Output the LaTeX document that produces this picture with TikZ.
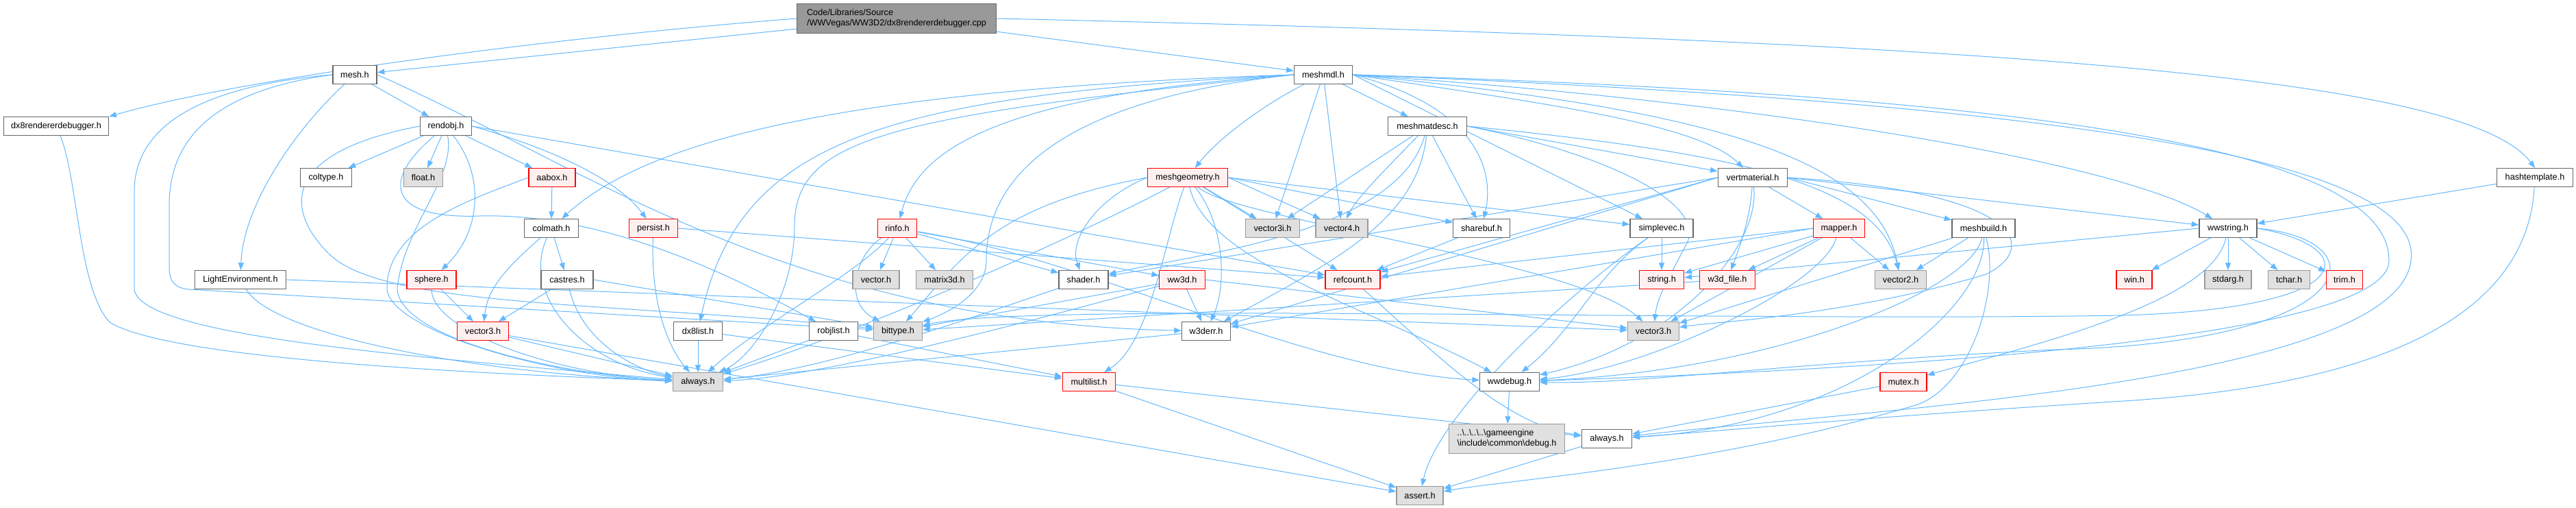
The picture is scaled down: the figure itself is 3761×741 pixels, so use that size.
\documentclass[tikz,border=0pt]{standalone}
\usepackage{fontspec}
\setmainfont{Liberation Sans}
\usetikzlibrary{arrows.meta}
\definecolor{edgeblue}{HTML}{63B8FF}
\definecolor{darkline}{HTML}{666666}
\definecolor{sysline}{HTML}{999999}
\definecolor{sysfill}{HTML}{E0E0E0}
\definecolor{cutfill}{HTML}{FFF0F0}
\definecolor{srcfill}{HTML}{999999}
\pgfdeclarelayer{background}
\pgfsetlayers{background,main}
\begin{document}
\begin{tikzpicture}[x=0.75pt, y=-0.75pt, >={Triangle[length=8pt,width=6pt]},
  incbox/.style={rectangle, line width=1pt, minimum height=20pt, inner sep=0pt, font=\fontsize{9.5}{11}\selectfont},
  plainfile/.style={incbox, draw=darkline, fill=white},
  sysfile/.style={incbox, draw=sysline, fill=sysfill},
  cutfile/.style={incbox, draw=red, fill=cutfill},
  srcfile/.style={incbox, draw=darkline, fill=srcfill, align=left},
  dep/.style={->, draw=edgeblue, line width=0.75pt}]
  \useasboundingbox (0,0) rectangle (3761,741);

  % 1. 元のファイル
  \node[srcfile, minimum width=218pt, minimum height=32pt] (root) at (1309,27) {Code/Libraries/Source\\/WWVegas/WW3D2/dx8rendererdebugger.cpp};

  % 2. 段 1--2
  \node[plainfile, minimum width=48pt]  (mesh)    at (518,109)  {mesh.h};
  \node[plainfile, minimum width=64pt]  (meshmdl) at (1932,109) {meshmdl.h};
  \node[plainfile, minimum width=115pt] (dxdbg)   at (82,184)   {dx8rendererdebugger.h};
  \node[plainfile, minimum width=56pt]  (rendobj) at (651,184)  {rendobj.h};
  \node[plainfile, minimum width=86pt]  (meshmatdesc) at (2084,184) {meshmatdesc.h};

  % 3. 段 3
  \node[plainfile, minimum width=56pt] (coltype)      at (476,259)  {coltype.h};
  \node[sysfile,   minimum width=43pt] (float)        at (618,259)  {float.h};
  \node[cutfile,   minimum width=51pt] (aabox)        at (806,259)  {aabox.h};
  \node[cutfile,   minimum width=88pt] (meshgeometry) at (1734,259) {meshgeometry.h};
  \node[plainfile, minimum width=76pt] (vertmaterial) at (2559,259) {vertmaterial.h};
  \node[plainfile, minimum width=83pt] (hashtemplate) at (3701,259) {hashtemplate.h};

  % 4. 段 4
  \node[plainfile, minimum width=59pt] (colmath)   at (805,333)  {colmath.h};
  \node[cutfile,   minimum width=53pt] (persist)   at (954,333)  {persist.h};
  \node[cutfile,   minimum width=43pt] (rinfo)     at (1310,333) {rinfo.h};
  \node[sysfile,   minimum width=59pt] (vector3i)  at (1858,333) {vector3i.h};
  \node[sysfile,   minimum width=57pt] (vector4)   at (1959,333) {vector4.h};
  \node[plainfile, minimum width=62pt] (sharebuf)  at (2163,333) {sharebuf.h};
  \node[plainfile, minimum width=69pt] (simplevec) at (2426,333) {simplevec.h};
  \node[cutfile,   minimum width=56pt] (mapper)    at (2685,333) {mapper.h};
  \node[plainfile, minimum width=69pt] (meshbuild) at (2896,333) {meshbuild.h};
  \node[plainfile, minimum width=63pt] (wwstring)  at (3253,333) {wwstring.h};

  % 5. 段 5
  \node[plainfile, minimum width=100pt] (lightenv) at (351,408)  {LightEnvironment.h};
  \node[cutfile,   minimum width=54pt]  (sphere)   at (630,408)  {sphere.h};
  \node[plainfile, minimum width=57pt]  (castres)  at (828,408)  {castres.h};
  \node[sysfile,   minimum width=51pt]  (vector)   at (1279,408) {vector.h};
  \node[sysfile,   minimum width=62pt]  (matrix3d) at (1379,408) {matrix3d.h};
  \node[plainfile, minimum width=54pt]  (shader)   at (1582,408) {shader.h};
  \node[cutfile,   minimum width=50pt]  (ww3d)     at (1726,408) {ww3d.h};
  \node[cutfile,   minimum width=60pt]  (refcount) at (1975,408) {refcount.h};
  \node[cutfile,   minimum width=49pt]  (stringh)  at (2426,408) {string.h};
  \node[cutfile,   minimum width=61pt]  (w3dfile)  at (2522,408) {w3d\_file.h};
  \node[sysfile,   minimum width=56pt]  (vector2)  at (2775,408) {vector2.h};
  \node[cutfile,   minimum width=39pt]  (win)      at (3116,408) {win.h};
  \node[sysfile,   minimum width=51pt]  (stdarg)   at (3253,408) {stdarg.h};
  \node[sysfile,   minimum width=46pt]  (tchar)    at (3342,408) {tchar.h};
  \node[cutfile,   minimum width=40pt]  (trim)     at (3423,408) {trim.h};

  % 6. 段 6
  \node[cutfile,   minimum width=56pt] (vecthreer) at (705,483)  {vector3.h};
  \node[plainfile, minimum width=53pt] (dxlist)    at (1019,483) {dx8list.h};
  \node[plainfile, minimum width=53pt] (robjlist)  at (1217,483) {robjlist.h};
  \node[sysfile,   minimum width=53pt] (bittype)   at (1311,483) {bittype.h};
  \node[plainfile, minimum width=53pt] (w3derr)    at (1761,483) {w3derr.h};
  \node[sysfile,   minimum width=56pt] (vecthreeg) at (2414,483) {vector3.h};

  % 7. 段 7--9
  \node[sysfile,   minimum width=55pt] (alwaysA)   at (1019,557) {always.h};
  \node[cutfile,   minimum width=58pt] (multilist) at (1590,557) {multilist.h};
  \node[plainfile, minimum width=65pt] (wwdebug)   at (2204,557) {wwdebug.h};
  \node[cutfile,   minimum width=51pt] (mutex)     at (2779,557) {mutex.h};
  \node[sysfile, align=left, minimum width=127pt, minimum height=32pt] (debug) at (2200,640)
    {..\textbackslash..\textbackslash..\textbackslash..\textbackslash gameengine\\\textbackslash include\textbackslash common\textbackslash debug.h};
  \node[plainfile, minimum width=55pt] (alwaysB)   at (2346,640) {always.h};
  \node[sysfile,   minimum width=51pt] (assert)    at (2073,723) {assert.h};

  \begin{pgfonlayer}{background}
  % 8. 元のファイルからの矢印
  \draw[dep] (root) -- (mesh);
  \draw[dep] (root.west) .. controls (800,55) and (350,115) .. (dxdbg.north east);
  \draw[dep] (root) -- (meshmdl);
  \draw[dep] (root.east) .. controls (2900,60) and (3600,110) .. (hashtemplate.north);

  % 9. dx8rendererdebugger.h, mesh.h
  \draw[dep] (dxdbg) .. controls (114,260) and (114,420) .. (160,470) .. controls (250,525) and (700,545) .. (alwaysA);
  \draw[dep] (mesh) .. controls (430,190) and (355,300) .. (lightenv);
  \draw[dep] (mesh) -- (rendobj);
  \draw[dep] (mesh.west) .. controls (300,125) and (196,180) .. (196,280) -- (196,420) .. controls (196,490) and (600,520) .. (alwaysA);
  \draw[dep] (mesh.west) .. controls (330,130) and (247,190) .. (247,300) -- (247,390) .. controls (247,410) and (255,420) .. (275,422) -- (bittype);
  \draw[dep] (mesh.east) .. controls (850,240) and (1150,470) .. (w3derr);

  % 10. rendobj.h
  \draw[dep] (rendobj) -- (coltype);
  \draw[dep] (rendobj) -- (float);
  \draw[dep] (rendobj) -- (aabox);
  \draw[dep] (rendobj.east) .. controls (800,215) and (900,260) .. (persist);
  \draw[dep] (rendobj) .. controls (710,260) and (700,340) .. (sphere);
  \draw[dep] (rendobj.east) -- (refcount);
  \draw[dep] (rendobj) .. controls (560,260) and (560,320) .. (700,315) .. controls (900,310) and (1100,420) .. (robjlist);
  \draw[dep] (rendobj) .. controls (665,260) and (590,330) .. (580,420) .. controls (580,490) and (800,545) .. (alwaysA);
  \draw[dep] (rendobj.west) .. controls (420,220) and (410,300) .. (480,370) .. controls (560,450) and (900,440) .. (bittype);

  % 11. aabox.h, colmath.h, persist.h, sphere.h
  \draw[dep] (aabox) -- (colmath);
  \draw[dep] (aabox.west) .. controls (690,290) and (565,330) .. (565,420) .. controls (565,480) and (800,550) .. (alwaysA);
  \draw[dep] (colmath) -- (castres);
  \draw[dep] (colmath) .. controls (740,390) and (712,420) .. (vecthreer);
  \draw[dep] (colmath) .. controls (760,430) and (850,530) .. (alwaysA);
  \draw[dep] (persist) .. controls (950,430) and (970,500) .. (alwaysA);
  \draw[dep] (persist.east) -- (refcount);
  \draw[dep] (sphere) -- (vecthreer);
  \draw[dep] (sphere) .. controls (630,480) and (800,545) .. (alwaysA);

  % 12. LightEnvironment.h, castres.h, vector3.h
  \draw[dep] (lightenv) .. controls (400,490) and (700,545) .. (alwaysA);
  \draw[dep] (lightenv.east) -- (vecthreeg);
  \draw[dep] (castres) -- (vecthreer);
  \draw[dep] (castres) .. controls (850,500) and (930,540) .. (alwaysA);
  \draw[dep] (castres.east) -- (bittype);
  \draw[dep] (vecthreer) -- (alwaysA);
  \draw[dep] (vecthreer) -- (assert);

  % 13. dx8list.h, robjlist.h, multilist.h
  \draw[dep] (dxlist) -- (alwaysA);
  \draw[dep] (dxlist) -- (multilist);
  \draw[dep] (robjlist) -- (alwaysA);
  \draw[dep] (robjlist) -- (multilist);
  \draw[dep] (multilist) -- (alwaysB);
  \draw[dep] (multilist) -- (assert);

  % 14. rinfo.h
  \draw[dep] (rinfo) -- (vector);
  \draw[dep] (rinfo) -- (matrix3d);
  \draw[dep] (rinfo) .. controls (1250,370) and (1230,440) .. (bittype);
  \draw[dep] (rinfo) .. controls (1250,400) and (1100,480) .. (alwaysA);
  \draw[dep] (rinfo) -- (shader);
  \draw[dep] (rinfo) -- (ww3d);
  \draw[dep] (rinfo) .. controls (1600,380) and (1900,540) .. (wwdebug);

  % 15. meshmdl.h
  \draw[dep] (meshmdl) -- (meshmatdesc);
  \draw[dep] (meshmdl) -- (vector3i);
  \draw[dep] (meshmdl) -- (vector4);
  \draw[dep] (meshmdl.east) .. controls (2170,160) and (2180,260) .. (sharebuf);
  \draw[dep] (meshmdl.east) -- (simplevec);
  \draw[dep] (meshmdl.east) .. controls (2250,150) and (2480,180) .. (vertmaterial);
  \draw[dep] (meshmdl) .. controls (1850,150) and (1780,200) .. (meshgeometry);
  \draw[dep] (meshmdl.west) .. controls (1450,140) and (1340,220) .. (rinfo);
  \draw[dep] (meshmdl.west) .. controls (1250,130) and (950,200) .. (colmath);
  \draw[dep] (meshmdl.west) .. controls (1300,140) and (1080,200) .. (dxlist);
  \draw[dep] (meshmdl.west) .. controls (1600,140) and (1440,230) .. (1440,380) .. controls (1440,420) and (1400,450) .. (bittype);
  \draw[dep] (meshmdl.west) .. controls (1300,170) and (1160,200) .. (1160,330) .. controls (1160,430) and (1100,520) .. (alwaysA);
  \draw[dep] (meshmdl.east) .. controls (2600,150) and (3100,240) .. (wwstring);
  \draw[dep] (meshmdl.east) .. controls (3000,150) and (3540,230) .. (3520,380) .. controls (3500,560) and (2700,600) .. (alwaysB);
  \draw[dep] (meshmdl.east) .. controls (3000,140) and (3488,220) .. (3488,380) .. controls (3488,500) and (2700,540) .. (wwdebug);
  \draw[dep] (meshmdl.east) .. controls (2500,160) and (2740,230) .. (vector2);

  % 16. meshmatdesc.h
  \draw[dep] (meshmatdesc) -- (vector3i);
  \draw[dep] (meshmatdesc) .. controls (2020,250) and (1980,290) .. (vector4);
  \draw[dep] (meshmatdesc) -- (sharebuf);
  \draw[dep] (meshmatdesc.east) -- (vertmaterial);
  \draw[dep] (meshmatdesc) .. controls (2040,340) and (1750,370) .. (shader);
  \draw[dep] (meshmatdesc) .. controls (2070,320) and (1950,380) .. (w3derr);
  \draw[dep] (meshmatdesc.east) .. controls (2500,220) and (2740,260) .. (vector2);
  \draw[dep] (meshmatdesc.east) .. controls (2350,225) and (2500,300) .. (2460,360) .. controls (2440,400) and (2420,430) .. (vecthreeg);

  % 17. meshgeometry.h
  \draw[dep] (meshgeometry) -- (vector3i);
  \draw[dep] (meshgeometry.east) -- (vector4);
  \draw[dep] (meshgeometry.east) -- (sharebuf);
  \draw[dep] (meshgeometry.east) -- (simplevec);
  \draw[dep] (meshgeometry) -- (refcount);
  \draw[dep] (meshgeometry) .. controls (1790,330) and (1790,420) .. (w3derr);
  \draw[dep] (meshgeometry.west) .. controls (1450,300) and (1400,380) .. (bittype);
  \draw[dep] (meshgeometry) .. controls (1600,330) and (1300,470) .. (alwaysA);
  \draw[dep] (meshgeometry) .. controls (1700,350) and (1680,500) .. (multilist);
  \draw[dep] (meshgeometry) .. controls (1760,380) and (2000,450) .. (wwdebug);
  \draw[dep] (meshgeometry) .. controls (1800,320) and (2300,380) .. (vecthreeg);
  \draw[dep] (meshgeometry.west) .. controls (1600,290) and (1560,350) .. (shader);

  % 18. vertmaterial.h
  \draw[dep] (vertmaterial) -- (mapper);
  \draw[dep] (vertmaterial.east) -- (meshbuild);
  \draw[dep] (vertmaterial.east) -- (wwstring);
  \draw[dep] (vertmaterial.west) -- (refcount);
  \draw[dep] (vertmaterial) .. controls (2555,320) and (2540,360) .. (w3dfile);
  \draw[dep] (vertmaterial.east) .. controls (2950,280) and (2980,360) .. (2900,400) .. controls (2700,460) and (2500,470) .. (vecthreeg);
  \draw[dep] (vertmaterial.west) -- (w3derr);
  \draw[dep] (vertmaterial.west) -- (shader);
  \draw[dep] (vertmaterial) .. controls (2570,360) and (2450,500) .. (wwdebug);

  % 19. mapper.h, meshbuild.h
  \draw[dep] (mapper.west) -- (refcount);
  \draw[dep] (mapper.west) -- (w3derr);
  \draw[dep] (mapper) -- (w3dfile);
  \draw[dep] (mapper) -- (stringh);
  \draw[dep] (mapper) -- (vector2);
  \draw[dep] (mapper) -- (vecthreeg);
  \draw[dep] (mapper) .. controls (2660,420) and (2400,540) .. (wwdebug);
  \draw[dep] (meshbuild) -- (vector2);
  \draw[dep] (meshbuild) -- (vecthreeg);
  \draw[dep] (meshbuild) .. controls (2880,420) and (2600,540) .. (wwdebug);
  \draw[dep] (meshbuild) .. controls (2900,450) and (2700,620) .. (alwaysB);
  \draw[dep] (meshbuild) .. controls (2920,420) and (2880,560) .. (2800,590) .. controls (2500,680) and (2200,700) .. (assert);

  % 20. wwstring.h, hashtemplate.h
  \draw[dep] (wwstring) -- (win);
  \draw[dep] (wwstring) -- (stdarg);
  \draw[dep] (wwstring) -- (tchar);
  \draw[dep] (wwstring) -- (trim);
  \draw[dep] (wwstring) .. controls (3230,440) and (2980,500) .. (mutex);
  \draw[dep] (wwstring.west) -- (stringh);
  \draw[dep] (wwstring.east) .. controls (3450,360) and (3450,450) .. (3100,460) .. controls (2500,470) and (1500,440) .. (bittype);
  \draw[dep] (wwstring.east) .. controls (3480,350) and (3450,500) .. (3000,510) .. controls (2600,530) and (2400,560) .. (wwdebug);
  \draw[dep] (hashtemplate) -- (wwstring);
  \draw[dep] (hashtemplate) .. controls (3690,450) and (3500,560) .. (3100,585) .. controls (2700,610) and (2500,630) .. (alwaysB);

  % 21. その他
  \draw[dep] (shader) .. controls (1400,470) and (1200,540) .. (alwaysA);
  \draw[dep] (ww3d) -- (w3derr);
  \draw[dep] (ww3d) -- (bittype);
  \draw[dep] (ww3d) .. controls (1500,470) and (1200,550) .. (alwaysA);
  \draw[dep] (ww3d.east) -- (vecthreeg);
  \draw[dep] (w3derr) -- (alwaysA);
  \draw[dep] (refcount) .. controls (2100,520) and (2200,620) .. (alwaysB);
  \draw[dep] (w3dfile) -- (bittype);
  \draw[dep] (simplevec) -- (stringh);
  \draw[dep] (simplevec) .. controls (2300,420) and (2100,600) .. (assert);
  \draw[dep] (simplevec) .. controls (2330,400) and (2300,480) .. (wwdebug);
  \draw[dep] (sharebuf) -- (refcount);
  \draw[dep] (wwdebug) -- (debug);
  \draw[dep] (alwaysB) -- (assert);
  \draw[dep] (mutex) -- (alwaysB);
  \end{pgfonlayer}
\end{tikzpicture}
\end{document}
